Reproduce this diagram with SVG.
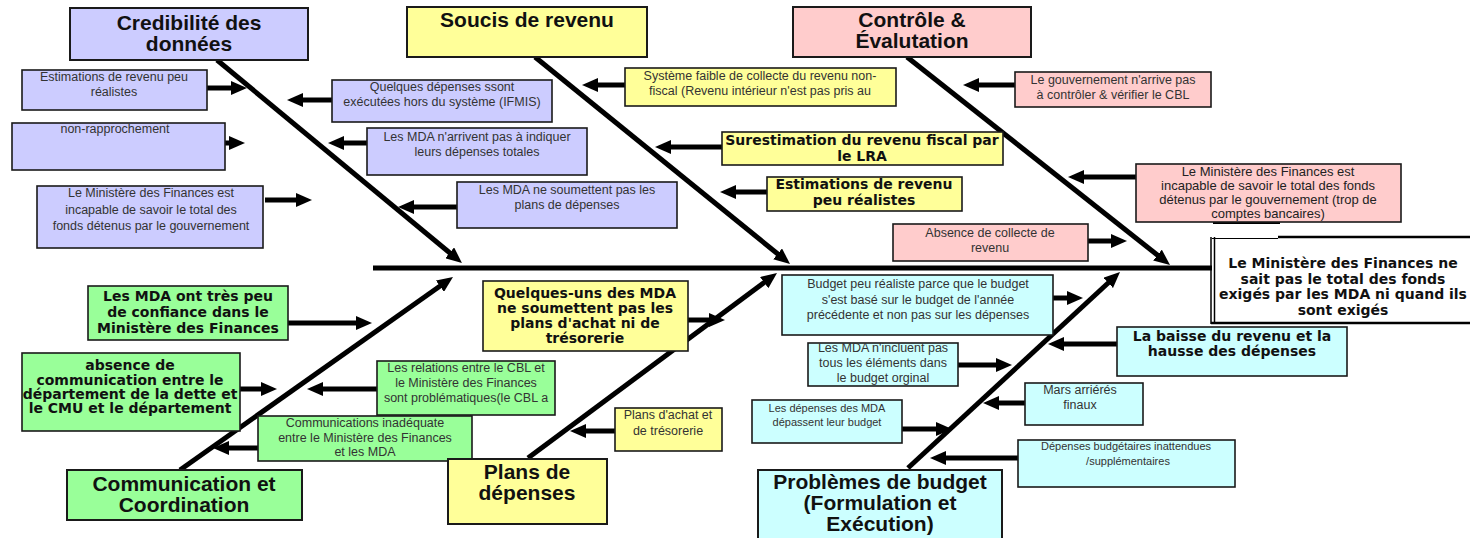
<svg xmlns="http://www.w3.org/2000/svg" width="1470" height="538" viewBox="0 0 1470 538">
<defs>
<style>
rect{stroke:#1a1a1a;stroke-width:1.6}
.ti{font-family:"Liberation Sans",Arial,sans-serif;font-weight:bold;font-size:21px;fill:#111;text-anchor:middle}
.s{font-family:"Liberation Sans",Arial,sans-serif;font-size:12.5px;fill:#333;text-anchor:middle}
.xs{font-family:"Liberation Sans",Arial,sans-serif;font-size:11px;fill:#333;text-anchor:middle}
.b{font-family:"DejaVu Sans",Verdana,sans-serif;font-weight:bold;font-size:14px;fill:#111;text-anchor:middle}
.r{font-family:"Liberation Sans",Arial,sans-serif;font-size:13px;fill:#222;text-anchor:middle}
.lav{fill:#ccccff}.yel{fill:#ffff99}.pnk{fill:#ffcccc}.grn{fill:#99ff99}.cya{fill:#ccffff}
.c line{stroke:#000;stroke-width:5;marker-end:url(#ah)}
</style>
<marker id="ah" markerUnits="userSpaceOnUse" markerWidth="16" markerHeight="14" viewBox="0 0 16 14" refX="5" refY="7" orient="auto"><path d="M0,0 L16,7 L0,14 Z" fill="#000"/></marker>
</defs>
<rect x="0" y="0" width="1470" height="538" style="fill:#fff;stroke:none"/>

<!-- Result node -->
<g id="result">
<rect x="1212" y="237" width="270" height="86" style="fill:#fff;stroke:none"/>
<line x1="1278" y1="237" x2="1470" y2="237" stroke="#000" stroke-width="2.5"/>
<line x1="1212" y1="238.5" x2="1278" y2="238.5" stroke="#000" stroke-width="1"/>
<line x1="1213" y1="223" x2="1280" y2="223" stroke="#000" stroke-width="2"/>
<line x1="1211" y1="237" x2="1211" y2="324" stroke="#000" stroke-width="1.5"/>
<line x1="1214.5" y1="237" x2="1214.5" y2="324" stroke="#000" stroke-width="1.5"/>
<line x1="1211" y1="323" x2="1470" y2="323" stroke="#000" stroke-width="2.5"/>
<text class="b" x="1343" y="268">Le Ministère des Finances ne</text>
<text class="b" x="1343" y="284">sait pas le total des fonds</text>
<text class="b" x="1343" y="299">exigés par les MDA ni quand ils</text>
<text class="b" x="1343" y="315">sont exigés</text>
</g>

<!-- Connectors -->
<g id="connectors" class="c">
<line x1="373" y1="268" x2="1212" y2="268" style="marker-end:none"/>
<line x1="217" y1="60" x2="453.5" y2="256"/>
<line x1="535" y1="57" x2="781.5" y2="257"/>
<line x1="907" y1="57" x2="1161.4" y2="258.2"/>
<line x1="180" y1="470" x2="444" y2="283.3"/>
<line x1="528" y1="458" x2="768.2" y2="279.6"/>
<line x1="908" y1="468" x2="1111.9" y2="279.5"/>
<line x1="207" y1="88" x2="236" y2="88"/>
<line x1="200" y1="143" x2="234" y2="143"/>
<line x1="265" y1="200" x2="301" y2="200"/>
<line x1="332" y1="100" x2="298" y2="100"/>
<line x1="367" y1="143" x2="339" y2="143"/>
<line x1="457" y1="207" x2="409" y2="207"/>
<line x1="625" y1="85" x2="593" y2="85"/>
<line x1="722" y1="147" x2="666" y2="147"/>
<line x1="767" y1="192" x2="731" y2="192"/>
<line x1="1015" y1="85" x2="974" y2="85"/>
<line x1="1136" y1="177" x2="1079" y2="177"/>
<line x1="1088" y1="241" x2="1116" y2="241"/>
<line x1="288" y1="323" x2="361" y2="323"/>
<line x1="240" y1="389" x2="266" y2="389"/>
<line x1="377" y1="389" x2="318" y2="389"/>
<line x1="258" y1="448" x2="224" y2="448"/>
<line x1="683" y1="320" x2="714" y2="320"/>
<line x1="615" y1="431" x2="581" y2="431"/>
<line x1="1053" y1="298" x2="1072" y2="298"/>
<line x1="958" y1="365" x2="1001" y2="365"/>
<line x1="902" y1="429" x2="941" y2="429"/>
<line x1="1117" y1="344" x2="1059" y2="344"/>
<line x1="1025" y1="403" x2="994" y2="403"/>
<line x1="1018" y1="458" x2="941" y2="458"/>
</g>

<!-- Crédibilité des données -->
<g id="cat-credibilite">
<rect class="lav" x="70" y="8" width="238" height="52" style="stroke-width:2"/>
<text class="ti" x="189" y="30">Credibilité des</text>
<text class="ti" x="189" y="51">données</text>
</g>
<g id="cred-1"><rect class="lav" x="22" y="70" width="185" height="40"/>
<text class="s" x="114" y="81">Estimations  de revenu peu</text><text class="s" x="114" y="96">réalistes</text></g>
<g id="cred-2"><rect class="lav" x="12" y="123" width="213" height="47"/>
<text class="s" x="115" y="133">non-rapprochement</text></g>
<g id="cred-3"><rect class="lav" x="37" y="186" width="226" height="62"/>
<text class="s" x="151" y="197">Le Ministère des Finances  est</text><text class="s" x="151" y="214">incapable de savoir le total des</text><text class="s" x="151" y="230">fonds détenus par le gouvernement</text></g>
<g id="cred-4"><rect class="lav" x="332" y="80" width="220" height="42"/>
<text class="s" x="442" y="91">Quelques dépenses ssont</text><text class="s" x="442" y="106">exécutées hors du système (IFMIS)</text></g>
<g id="cred-5"><rect class="lav" x="367" y="128" width="220" height="47"/>
<text class="s" x="477" y="141">Les MDA n'arrivent pas à indiquer</text><text class="s" x="477" y="156">leurs dépenses totales</text></g>
<g id="cred-6"><rect class="lav" x="457" y="182" width="220" height="46"/>
<text class="s" x="567" y="194">Les MDA  ne soumettent pas les</text><text class="s" x="567" y="209">plans de dépenses</text></g>

<!-- Soucis de revenu -->
<g id="cat-soucis">
<rect class="yel" x="407" y="7" width="240" height="50" style="stroke-width:2"/>
<text class="ti" x="527" y="27">Soucis de revenu</text>
</g>
<g id="rev-1"><rect class="yel" x="625" y="68" width="271" height="38"/>
<text class="s" x="760" y="80">Système faible de collecte du revenu non-</text><text class="s" x="760" y="95">fiscal (Revenu intérieur n'est pas pris au</text></g>
<g id="rev-2"><rect class="yel" x="722" y="132" width="281" height="33"/>
<text class="b" x="862" y="145">Surestimation du revenu fiscal par</text><text class="b" x="862" y="161">le LRA</text></g>
<g id="rev-3"><rect class="yel" x="767" y="177" width="195" height="34"/>
<text class="b" x="864" y="189">Estimations de revenu</text><text class="b" x="864" y="205">peu réalistes</text></g>

<!-- Contrôle & Évaluation -->
<g id="cat-controle">
<rect class="pnk" x="793" y="7" width="238" height="50" style="stroke-width:2"/>
<text class="ti" x="912" y="27">Contrôle &amp;</text>
<text class="ti" x="912" y="48">Évalutation</text>
</g>
<g id="ctl-1"><rect class="pnk" x="1015" y="72" width="196" height="35"/>
<text class="s" x="1113" y="84">Le gouvernement n'arrive pas</text><text class="s" x="1113" y="99">à contrôler &amp; vérifier le CBL</text></g>
<g id="ctl-2"><rect class="pnk" x="1136" y="164" width="265" height="58"/>
<text class="r" x="1268" y="176">Le Ministère des Finances  est</text><text class="r" x="1268" y="190">incapable de savoir le total des fonds</text><text class="r" x="1268" y="204">détenus par le gouvernement (trop de</text><text class="r" x="1268" y="218">comptes bancaires)</text></g>
<g id="ctl-3"><rect class="pnk" x="893" y="224" width="195" height="37"/>
<text class="s" x="990" y="237">Absence de collecte de</text><text class="s" x="990" y="252">revenu</text></g>

<!-- Communication et Coordination -->
<g id="cat-communication">
<rect class="grn" x="67" y="470" width="235" height="50" style="stroke-width:2"/>
<text class="ti" x="184" y="491">Communication et</text>
<text class="ti" x="184" y="512">Coordination</text>
</g>
<g id="com-1"><rect class="grn" x="88" y="286" width="200" height="54"/>
<text class="b" x="188" y="301">Les MDA ont très peu</text><text class="b" x="188" y="317">de confiance dans le</text><text class="b" x="188" y="333">Ministère des Finances</text></g>
<g id="com-2"><rect class="grn" x="22" y="353" width="218" height="78"/>
<text class="b" x="130" y="370">absence de</text><text class="b" x="130" y="385">communication entre le</text><text class="b" x="130" y="399">département de la dette et</text><text class="b" x="130" y="413">le CMU et le département</text></g>
<g id="com-3"><rect class="grn" x="377" y="361" width="178" height="54"/>
<text class="s" x="466" y="372">Les relations entre le CBL  et</text><text class="s" x="466" y="387">le Ministère des Finances</text><text class="s" x="466" y="402">sont problématiques(le CBL a</text></g>
<g id="com-4"><rect class="grn" x="258" y="416" width="214" height="45"/>
<text class="s" x="365" y="427">Communications inadéquate</text><text class="s" x="365" y="442">entre le  Ministère des Finances</text><text class="s" x="365" y="456">et les MDA</text></g>

<!-- Plans de dépenses -->
<g id="cat-plans">
<rect class="yel" x="448" y="459" width="159" height="65" style="stroke-width:2"/>
<text class="ti" x="527" y="479">Plans de</text>
<text class="ti" x="527" y="500">dépenses</text>
</g>
<g id="pla-1"><rect class="yel" x="483" y="281" width="205" height="70"/>
<text class="b" x="585" y="298">Quelques-uns des MDA</text><text class="b" x="585" y="313">ne soumettent pas les</text><text class="b" x="585" y="328">plans d'achat ni de</text><text class="b" x="585" y="343">trésorerie</text></g>
<g id="pla-2"><rect class="yel" x="615" y="408" width="107" height="43"/>
<text class="s" x="668" y="419">Plans d'achat et</text><text class="s" x="668" y="435">de trésorerie</text></g>

<!-- Problèmes de budget -->
<g id="cat-budget">
<rect class="cya" x="758" y="470" width="244" height="80" style="stroke-width:2"/>
<text class="ti" x="880" y="489">Problèmes de budget</text>
<text class="ti" x="880" y="510">(Formulation et</text>
<text class="ti" x="880" y="531">Exécution)</text>
</g>
<g id="bud-1"><rect class="cya" x="782" y="275" width="271" height="60"/>
<text class="s" x="918" y="288">Budget peu réaliste parce que le budget</text><text class="s" x="918" y="304">s'est basé sur le budget de l'année</text><text class="s" x="918" y="319">précédente et non pas sur les dépenses</text></g>
<g id="bud-2"><rect class="cya" x="808" y="343" width="150" height="43"/>
<text class="s" x="883" y="352">Les MDA  n'incluent pas</text><text class="s" x="883" y="367">tous les éléments dans</text><text class="s" x="883" y="382">le budget orginal</text></g>
<g id="bud-3"><rect class="cya" x="752" y="400" width="150" height="43"/>
<text class="xs" x="827" y="412">Les dépenses des  MDA</text><text class="xs" x="827" y="426">dépassent leur budget</text></g>
<g id="bud-4"><rect class="cya" x="1117" y="327" width="230" height="49"/>
<text class="b" x="1232" y="341">La baisse du revenu et la</text><text class="b" x="1232" y="356">hausse des dépenses</text></g>
<g id="bud-5"><rect class="cya" x="1025" y="383" width="118" height="42"/>
<text class="s" x="1080" y="394">Mars arriérés</text><text class="s" x="1080" y="409">finaux</text></g>
<g id="bud-6"><rect class="cya" x="1018" y="440" width="217" height="47"/>
<text class="xs" x="1126" y="450">Dépenses budgétaires  inattendues</text><text class="xs" x="1128" y="465">/supplémentaires</text></g>
</svg>
